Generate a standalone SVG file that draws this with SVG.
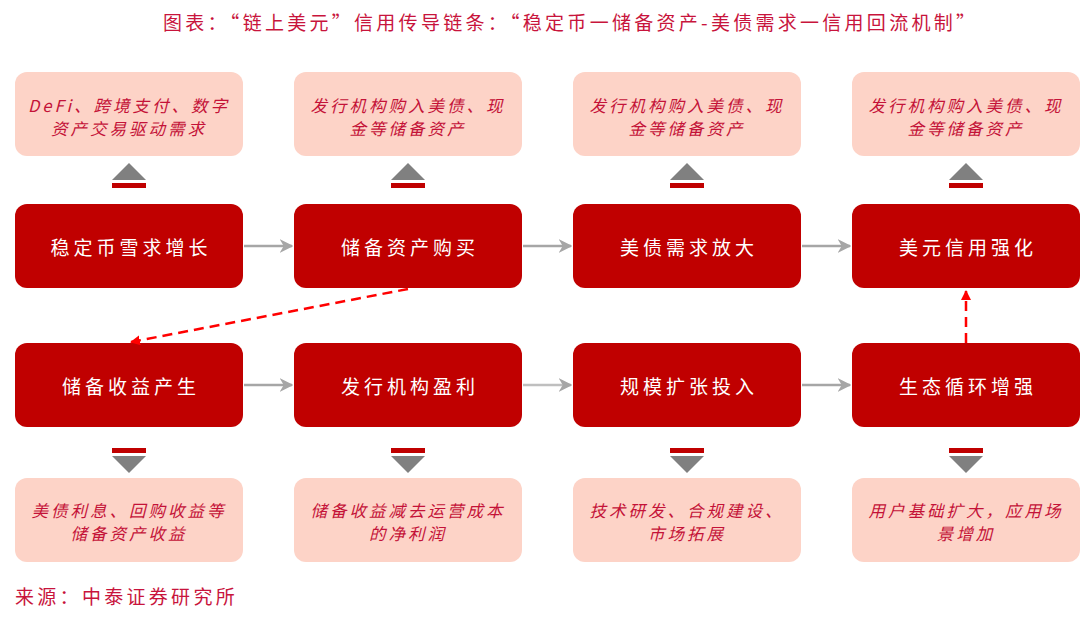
<svg xmlns="http://www.w3.org/2000/svg" width="1080" height="622" viewBox="0 0 1080 622">
<style>
.title{font-family:"Noto Sans CJK SC","Liberation Sans",sans-serif;font-size:19px;fill:#C8143C;}
.src{font-family:"Noto Sans CJK SC","Liberation Sans",sans-serif;font-size:19px;fill:#C8143C;letter-spacing:3.3px;}
.main rect{fill:#C00000;}
.main text{font-family:"Noto Sans CJK SC","Liberation Sans",sans-serif;font-size:19px;fill:#FFFFFF;letter-spacing:4px;text-anchor:middle;dominant-baseline:central;}
.note rect{fill:#FDD3C7;}
.note text{font-family:"Noto Sans CJK SC","Liberation Sans",sans-serif;font-size:16.5px;font-style:italic;fill:#C41238;letter-spacing:3px;text-anchor:middle;dominant-baseline:central;}
.tri{fill:#808080;}
.bar{fill:#C00000;}
.flow{stroke:#A6A6A6;stroke-width:2.5;fill:none;}
.dash{stroke:#FF0000;stroke-width:2.5;fill:none;stroke-dasharray:10 6;}
</style>
<defs>
<marker id="ag" viewBox="0 0 10 10" refX="9" refY="5" markerWidth="5.5" markerHeight="5.5" orient="auto" markerUnits="strokeWidth">
<path d="M0,0 L10,5 L0,10 L3,5 Z" fill="#A6A6A6"/>
</marker>
<marker id="ar" viewBox="0 0 10 10" refX="9" refY="5" markerWidth="4" markerHeight="4" orient="auto" markerUnits="strokeWidth">
<path d="M0,0 L10,5 L0,10 Z" fill="#FF0000"/>
</marker>
</defs>
<rect width="1080" height="622" fill="#FFFFFF"/>
<text class="title" x="163" y="30" textLength="812" lengthAdjust="spacing">图表：“链上美元”信用传导链条：“稳定币一储备资产-美债需求一信用回流机制”</text>

<g id="note-top-1" class="note"><rect x="15" y="72" width="228" height="84" rx="12"/><text x="129" y="105">DeFi、跨境支付、数字</text><text x="129" y="128">资产交易驱动需求</text></g>
<g id="note-top-2" class="note"><rect x="294" y="72" width="228" height="84" rx="12"/><text x="408" y="105">发行机构购入美债、现</text><text x="408" y="128">金等储备资产</text></g>
<g id="note-top-3" class="note"><rect x="573" y="72" width="228" height="84" rx="12"/><text x="687" y="105">发行机构购入美债、现</text><text x="687" y="128">金等储备资产</text></g>
<g id="note-top-4" class="note"><rect x="852" y="72" width="228" height="84" rx="12"/><text x="966" y="105">发行机构购入美债、现</text><text x="966" y="128">金等储备资产</text></g>

<g id="sym-top">
<polygon class="tri" points="112,180 146,180 129,163"/><rect class="bar" x="112" y="183" width="34" height="5"/>
<polygon class="tri" points="391,180 425,180 408,163"/><rect class="bar" x="391" y="183" width="34" height="5"/>
<polygon class="tri" points="670,180 704,180 687,163"/><rect class="bar" x="670" y="183" width="34" height="5"/>
<polygon class="tri" points="949,180 983,180 966,163"/><rect class="bar" x="949" y="183" width="34" height="5"/>
</g>

<g id="n1" class="main"><rect x="15" y="204" width="228" height="84" rx="12"/><text x="131" y="246">稳定币雪求增长</text></g>
<g id="n2" class="main"><rect x="294" y="204" width="228" height="84" rx="12"/><text x="410" y="246">储备资产购买</text></g>
<g id="n3" class="main"><rect x="573" y="204" width="228" height="84" rx="12"/><text x="689" y="246">美债需求放大</text></g>
<g id="n4" class="main"><rect x="852" y="204" width="228" height="84" rx="12"/><text x="968" y="246">美元信用强化</text></g>
<g id="n5" class="main"><rect x="15" y="343" width="228" height="84" rx="12"/><text x="131" y="385">储备收益产生</text></g>
<g id="n6" class="main"><rect x="294" y="343" width="228" height="84" rx="12"/><text x="410" y="385">发行机构盈利</text></g>
<g id="n7" class="main"><rect x="573" y="343" width="228" height="84" rx="12"/><text x="689" y="385">规模扩张投入</text></g>
<g id="n8" class="main"><rect x="852" y="343" width="228" height="84" rx="12"/><text x="968" y="385">生态循环增强</text></g>

<g id="connectors">
<line class="flow" x1="244" y1="246" x2="292" y2="246" marker-end="url(#ag)"/>
<line class="flow" x1="523" y1="246" x2="571" y2="246" marker-end="url(#ag)"/>
<line class="flow" x1="802" y1="246" x2="850" y2="246" marker-end="url(#ag)"/>
<line class="flow" x1="244" y1="385" x2="292" y2="385" marker-end="url(#ag)"/>
<line class="flow" x1="523" y1="385" x2="571" y2="385" marker-end="url(#ag)" style="stroke:#BFBFBF"/>
<line class="flow" x1="802" y1="385" x2="850" y2="385" marker-end="url(#ag)"/>
<line class="dash" x1="408" y1="289" x2="131" y2="342" marker-end="url(#ar)"/>
<line class="dash" x1="966" y1="343" x2="966" y2="291" marker-end="url(#ar)"/>
</g>

<g id="sym-bottom">
<rect class="bar" x="112" y="448" width="34" height="5"/><polygon class="tri" points="112,456 146,456 129,473"/>
<rect class="bar" x="391" y="448" width="34" height="5"/><polygon class="tri" points="391,456 425,456 408,473"/>
<rect class="bar" x="670" y="448" width="34" height="5"/><polygon class="tri" points="670,456 704,456 687,473"/>
<rect class="bar" x="949" y="448" width="34" height="5"/><polygon class="tri" points="949,456 983,456 966,473"/>
</g>

<g id="note-bot-1" class="note"><rect x="15" y="478" width="228" height="84" rx="12"/><text x="129" y="510">美债利息、回购收益等</text><text x="129" y="533">储备资产收益</text></g>
<g id="note-bot-2" class="note"><rect x="294" y="478" width="228" height="84" rx="12"/><text x="408" y="510">储备收益减去运营成本</text><text x="408" y="533">的净利润</text></g>
<g id="note-bot-3" class="note"><rect x="573" y="478" width="228" height="84" rx="12"/><text x="687" y="510">技术研发、合规建设、</text><text x="687" y="533">市场拓展</text></g>
<g id="note-bot-4" class="note"><rect x="852" y="478" width="228" height="84" rx="12"/><text x="966" y="510">用户基础扩大，应用场</text><text x="966" y="533">景增加</text></g>

<text class="src" x="15" y="604">来源：中泰证券研究所</text>
</svg>
